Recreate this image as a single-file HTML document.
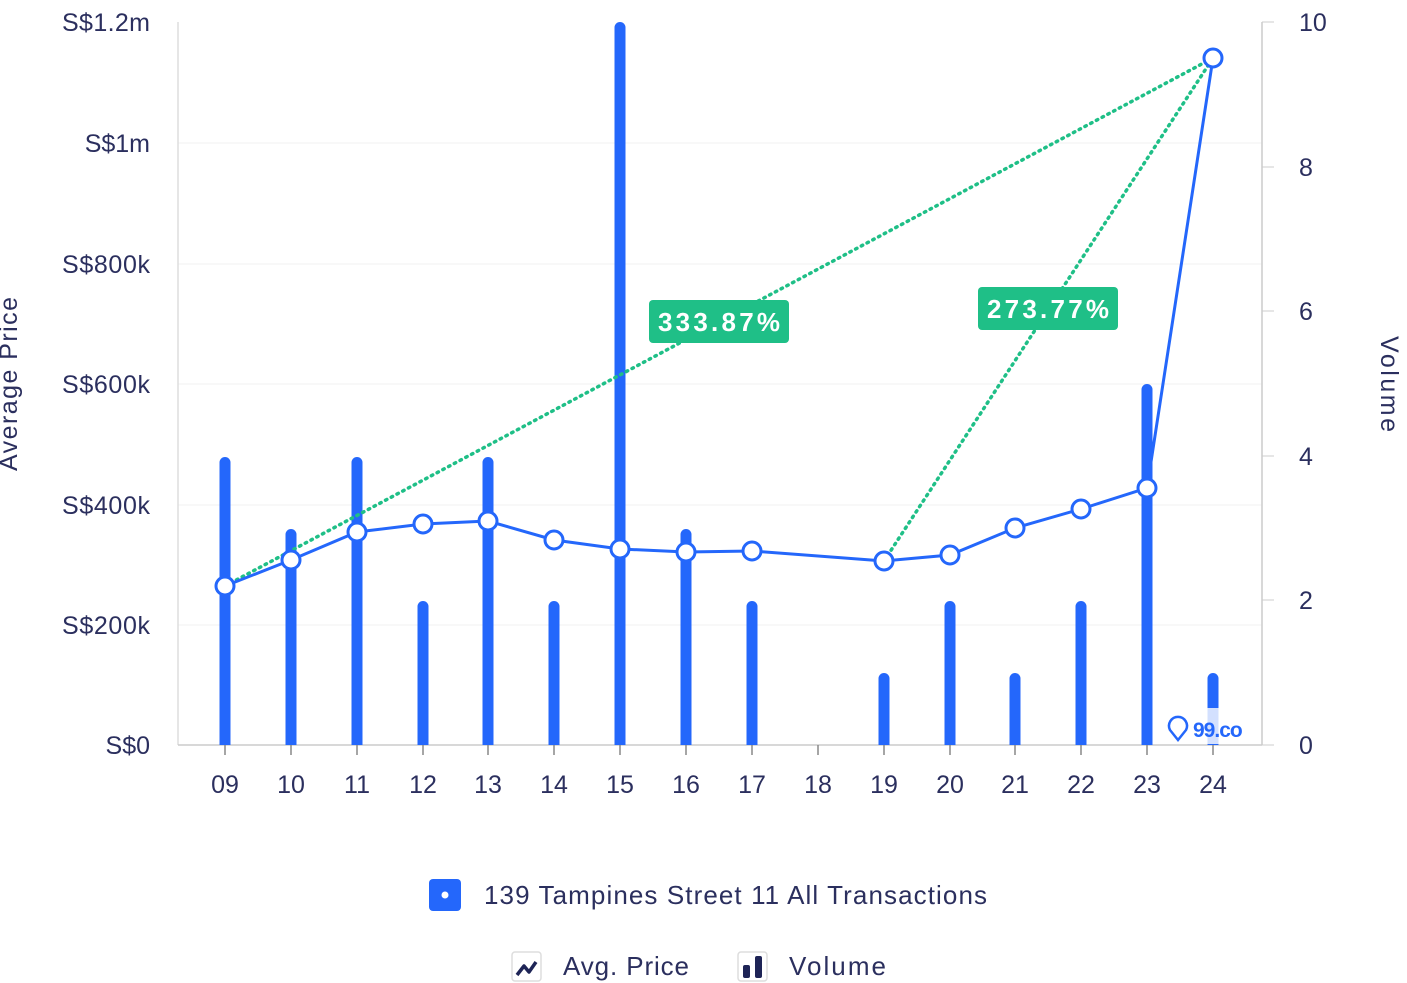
<!DOCTYPE html>
<html><head><meta charset="utf-8"><style>
html,body{margin:0;padding:0;background:#fff;}
svg{display:block;font-family:"Liberation Sans",sans-serif;}
</style></head><body>
<svg width="1407" height="983" viewBox="0 0 1407 983" xmlns="http://www.w3.org/2000/svg">
<defs><clipPath id="c"><rect x="170" y="0" width="1100" height="745"/></clipPath></defs>
<g stroke="#f0f0f2" stroke-width="1">
<line x1="178" y1="143" x2="1262" y2="143"/><line x1="178" y1="264" x2="1262" y2="264"/>
<line x1="178" y1="384" x2="1262" y2="384"/><line x1="178" y1="505" x2="1262" y2="505"/>
<line x1="178" y1="625" x2="1262" y2="625"/>
</g>
<line x1="178" y1="22" x2="178" y2="745" stroke="#ddd" stroke-width="1.5"/>
<line x1="1262" y1="22" x2="1262" y2="745" stroke="#ccc" stroke-width="1.5"/>
<line x1="1262" y1="22" x2="1274" y2="22" stroke="#ccc"/><line x1="1262" y1="167" x2="1274" y2="167" stroke="#ccc"/>
<line x1="1262" y1="311" x2="1274" y2="311" stroke="#ccc"/><line x1="1262" y1="456" x2="1274" y2="456" stroke="#ccc"/>
<line x1="1262" y1="600" x2="1274" y2="600" stroke="#ccc"/><line x1="1262" y1="745" x2="1274" y2="745" stroke="#ccc"/>
<line x1="178" y1="745" x2="1262" y2="745" stroke="#ccc" stroke-width="1.5"/>
<g stroke="#888" stroke-width="1.5">
<line x1="225" y1="745" x2="225" y2="755"/><line x1="291" y1="745" x2="291" y2="755"/><line x1="357" y1="745" x2="357" y2="755"/><line x1="423" y1="745" x2="423" y2="755"/><line x1="488" y1="745" x2="488" y2="755"/><line x1="554" y1="745" x2="554" y2="755"/><line x1="620" y1="745" x2="620" y2="755"/><line x1="686" y1="745" x2="686" y2="755"/><line x1="752" y1="745" x2="752" y2="755"/><line x1="818" y1="745" x2="818" y2="755"/><line x1="884" y1="745" x2="884" y2="755"/><line x1="950" y1="745" x2="950" y2="755"/><line x1="1015" y1="745" x2="1015" y2="755"/><line x1="1081" y1="745" x2="1081" y2="755"/><line x1="1147" y1="745" x2="1147" y2="755"/><line x1="1213" y1="745" x2="1213" y2="755"/>
</g>
<g fill="#2b2f5e" font-size="25">
<g text-anchor="end">
<text x="150" y="31" textLength="88">S$1.2m</text><text x="150" y="152">S$1m</text><text x="150" y="273" textLength="88">S$800k</text>
<text x="150" y="393" textLength="88">S$600k</text><text x="150" y="514" textLength="88">S$400k</text><text x="150" y="634" textLength="88">S$200k</text><text x="150" y="754">S$0</text>
</g>
<g text-anchor="start">
<text x="1299" y="31">10</text><text x="1299" y="176">8</text><text x="1299" y="320">6</text>
<text x="1299" y="465">4</text><text x="1299" y="609">2</text><text x="1299" y="754">0</text>
</g>
<g text-anchor="middle">
<text x="225" y="793">09</text><text x="291" y="793">10</text><text x="357" y="793">11</text><text x="423" y="793">12</text><text x="488" y="793">13</text><text x="554" y="793">14</text><text x="620" y="793">15</text><text x="686" y="793">16</text><text x="752" y="793">17</text><text x="818" y="793">18</text><text x="884" y="793">19</text><text x="950" y="793">20</text><text x="1015" y="793">21</text><text x="1081" y="793">22</text><text x="1147" y="793">23</text><text x="1213" y="793">24</text>
</g>
<text transform="translate(17,384) rotate(-90)" text-anchor="middle" textLength="174">Average Price</text>
<text transform="translate(1381,384) rotate(90)" text-anchor="middle" textLength="96">Volume</text>
</g>
<g fill="#2467fb" clip-path="url(#c)">
<rect x="219.5" y="457" width="11" height="300" rx="5.5"/>
<rect x="285.5" y="529" width="11" height="300" rx="5.5"/>
<rect x="351.5" y="457" width="11" height="300" rx="5.5"/>
<rect x="417.5" y="601" width="11" height="300" rx="5.5"/>
<rect x="482.5" y="457" width="11" height="300" rx="5.5"/>
<rect x="548.5" y="601" width="11" height="300" rx="5.5"/>
<rect x="614.5" y="22" width="11" height="800" rx="5.5"/>
<rect x="680.5" y="529" width="11" height="300" rx="5.5"/>
<rect x="746.5" y="601" width="11" height="300" rx="5.5"/>
<rect x="878.5" y="673" width="11" height="300" rx="5.5"/>
<rect x="944.5" y="601" width="11" height="300" rx="5.5"/>
<rect x="1009.5" y="673" width="11" height="300" rx="5.5"/>
<rect x="1075.5" y="601" width="11" height="300" rx="5.5"/>
<rect x="1141.5" y="384" width="11" height="500" rx="5.5"/>
<rect x="1207.5" y="673" width="11" height="300" rx="5.5"/>
</g>
<rect x="1165" y="708" width="80" height="36" fill="#fff" opacity="0.8"/>
<text x="1193" y="737" font-size="21" font-weight="bold" fill="#2467fb" letter-spacing="-1">99.co</text>
<path d="M1178 740 l-8 -10 a9 9 0 1 1 16 0 z" fill="none" stroke="#2467fb" stroke-width="2.5"/>
<g stroke="#1fbf87" stroke-width="3.5" stroke-dasharray="1.5 5" stroke-linecap="round" fill="none">
<line x1="225" y1="586" x2="1213" y2="58"/><line x1="884" y1="561" x2="1213" y2="58"/>
</g>
<polyline fill="none" stroke="#2467fb" stroke-width="3" points="225,586 291,560 357,532 423,524 488,521 554,540 620,549 686,552 752,551 884,561 950,555 1015,528 1081,509 1147,488 1213,58"/>
<g fill="#fff" stroke="#2467fb" stroke-width="3">
<circle cx="225" cy="586" r="9"/><circle cx="291" cy="560" r="9"/><circle cx="357" cy="532" r="9"/><circle cx="423" cy="524" r="9"/><circle cx="488" cy="521" r="9"/><circle cx="554" cy="540" r="9"/><circle cx="620" cy="549" r="9"/><circle cx="686" cy="552" r="9"/><circle cx="752" cy="551" r="9"/><circle cx="884" cy="561" r="9"/><circle cx="950" cy="555" r="9"/><circle cx="1015" cy="528" r="9"/><circle cx="1081" cy="509" r="9"/><circle cx="1147" cy="488" r="9"/><circle cx="1213" cy="58" r="9"/>
</g>
<rect x="649" y="300" width="140" height="43" rx="4" fill="#1fbf87"/>
<text x="719" y="331" text-anchor="middle" font-size="26" font-weight="bold" fill="#fff" textLength="122">333.87%</text>
<rect x="978" y="287" width="140" height="43" rx="4" fill="#1fbf87"/>
<text x="1048" y="318" text-anchor="middle" font-size="26" font-weight="bold" fill="#fff" textLength="122">273.77%</text>
<rect x="429" y="879" width="32" height="32" rx="4" fill="#2467fb"/>
<circle cx="445" cy="895" r="3.5" fill="#fff"/>
<text x="484" y="904" font-size="26" fill="#2b2f5e" textLength="503">139 Tampines Street 11 All Transactions</text>
<rect x="512" y="952" width="29" height="29" rx="3" fill="#fff" stroke="#ddd" stroke-width="1.5"/>
<path d="M517 975 l7 -9 l5 6 l7 -10" fill="none" stroke="#1e2456" stroke-width="3.5" stroke-linejoin="round"/>
<text x="563" y="975" font-size="26" fill="#2b2f5e" textLength="126">Avg. Price</text>
<rect x="738" y="952" width="29" height="29" rx="3" fill="#fff" stroke="#ddd" stroke-width="1.5"/>
<rect x="743" y="965" width="7" height="13" rx="2" fill="#1e2456"/><rect x="755" y="956" width="7" height="22" rx="2" fill="#1e2456"/>
<text x="789" y="975" font-size="26" fill="#2b2f5e" textLength="97">Volume</text>
</svg>
</body></html>
